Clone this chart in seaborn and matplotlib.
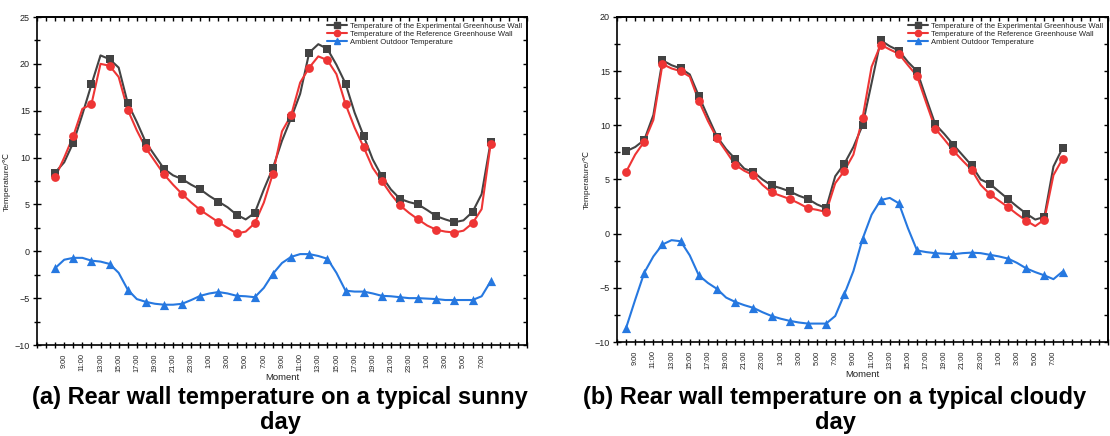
import matplotlib
matplotlib.use("Agg")
import matplotlib.pyplot as plt
from matplotlib.lines import Line2D
from matplotlib.ticker import MultipleLocator, FixedLocator, NullFormatter
import seaborn as sns
import pandas as pd

# ---------------- data ----------------
# hourly readings, 8:00 day 1 -> 8:00 day 3 (hour index counted from 0:00 day 1)
hours = list(range(8, 57))

sunny_exp = [8.4, 9.5, 11.6, 14.6, 17.8, 20.9, 20.5, 19.6, 15.8, 13.8, 11.6, 10.2,
             8.8, 8.1, 7.7, 7.1, 6.6, 5.9, 5.3, 4.7, 3.9, 3.4, 4.1, 6.6,
             8.9, 11.8, 14.2, 16.8, 21.2, 22.1, 21.6, 19.9, 17.9, 14.8, 12.3, 9.8,
             8.0, 6.6, 5.6, 5.25, 5.0, 4.4, 3.75, 3.4, 3.1, 3.3, 4.2, 6.1,
             11.7]
sunny_ref = [7.9, 10.0, 12.3, 15.2, 15.7, 20.0, 19.8, 18.6, 15.1, 12.9, 11.0, 9.6,
             8.2, 7.1, 6.1, 5.2, 4.4, 3.75, 3.1, 2.5, 1.9, 2.1, 3.0, 5.2,
             8.3, 12.8, 14.5, 18.0, 19.6, 20.8, 20.4, 18.9, 15.7, 13.2, 11.1, 8.9,
             7.5, 6.1, 4.9, 4.1, 3.4, 2.75, 2.3, 2.1, 2.0, 2.2, 3.0, 4.5,
             11.5]
sunny_amb = [-1.8, -0.9, -0.7, -0.7, -1.0, -1.1, -1.35, -2.3, -4.1, -5.1, -5.4, -5.6,
             -5.7, -5.7, -5.6, -5.2, -4.75, -4.5, -4.35, -4.5, -4.75, -4.8, -4.9, -3.9,
             -2.4, -1.25, -0.6, -0.3, -0.3, -0.5, -0.8, -2.3, -4.2, -4.3, -4.3, -4.5,
             -4.75, -4.8, -4.9, -5.0, -5.0, -5.05, -5.1, -5.2, -5.2, -5.2, -5.2, -4.8,
             -3.2]

cloudy_exp = [7.6, 8.0, 8.65, 10.95, 16.0, 15.55, 15.25, 14.7, 12.7, 10.8, 8.95, 7.8,
              6.9, 6.0, 5.7, 5.0, 4.45, 4.2, 3.9, 3.5, 3.2, 2.7, 2.35, 5.3,
              6.45, 8.0, 10.0, 13.9, 17.85, 17.3, 16.9, 15.85, 15.0, 12.5, 10.1, 9.2,
              8.2, 7.25, 6.3, 5.0, 4.6, 3.9, 3.2, 2.5, 1.85, 1.3, 1.55, 6.2,
              7.9]
cloudy_ref = [5.7, 7.3, 8.5, 10.5, 15.65, 15.25, 15.0, 14.5, 12.25, 10.4, 8.8, 7.6,
              6.35, 5.8, 5.4, 4.5, 3.8, 3.5, 3.2, 2.8, 2.35, 2.2, 2.0, 4.65,
              5.8, 7.3, 10.65, 15.4, 17.45, 17.0, 16.6, 15.55, 14.55, 12.1, 9.7, 8.7,
              7.65, 6.75, 5.9, 4.5, 3.65, 3.05, 2.45, 1.8, 1.2, 0.7, 1.3, 5.4,
              6.9]
cloudy_amb = [-8.7, -6.1, -3.6, -2.1, -1.0, -0.6, -0.7, -2.0, -3.85, -4.55, -5.1, -5.9,
              -6.3, -6.6, -6.85, -7.25, -7.6, -7.85, -8.05, -8.2, -8.3, -8.3, -8.3, -7.6,
              -5.6, -3.45, -0.5, 1.75, 3.1, 3.3, 2.8, 0.5, -1.55, -1.7, -1.8, -1.85,
              -1.9, -1.8, -1.75, -1.8, -1.95, -2.1, -2.3, -2.7, -3.2, -3.55, -3.85, -4.2,
              -3.5]

series_names = ["Temperature of the Experimental Greenhouse Wall",
                "Temperature of the Reference Greenhouse Wall",
                "Ambient Outdoor Temperature"]
label_hours = list(range(9, 56, 2))
tick_labels = [f"{h % 24}:00" for h in label_hours]

titles = ["(a) Rear wall temperature on a typical sunny\nday",
          "(b) Rear wall temperature on a typical cloudy\nday"]

# ---------------- style ----------------
sns.set_theme(style="white")
plt.rcParams["font.family"] = ["Liberation Sans", "DejaVu Sans"]

colors = ["#434343", "#ee3535", "#2678e0"]
markers = ["s", "o", "^"]
msizes = [32, 40, 44]
txt = "#222222"

fig = plt.figure(figsize=(11.1, 4.36), dpi=100)
ax_pos = [[37 / 1110, 1 - 345 / 436, 490 / 1110, 328 / 436],
          [617 / 1110, 1 - 342 / 436, 491 / 1110, 325 / 436]]
title_x = [280 / 1110, 835 / 1110]
xlims = [(6, 60), (7, 61)]
ylims = [(-10, 25), (-10, 20)]
panels = [(sunny_exp, sunny_ref, sunny_amb), (cloudy_exp, cloudy_ref, cloudy_amb)]

for i in range(2):
    ax = fig.add_axes(ax_pos[i])
    for vals, c, m, s in zip(panels[i], colors, markers, msizes):
        df = pd.DataFrame({"h": hours, "v": vals})
        sns.lineplot(data=df, x="h", y="v", ax=ax, color=c, lw=1.5, zorder=2)
        sns.scatterplot(data=df.iloc[::2], x="h", y="v", ax=ax, color=c,
                        marker=m, s=s, linewidth=0, zorder=3)
    ax.set_xlim(*xlims[i])
    ax.set_ylim(*ylims[i])
    ax.xaxis.set_major_locator(FixedLocator(label_hours))
    ax.set_xticklabels(tick_labels, rotation=90, fontsize=5.3, color=txt)
    ax.xaxis.set_minor_locator(MultipleLocator(1))
    ax.yaxis.set_major_locator(MultipleLocator(5))
    ax.yaxis.set_minor_locator(MultipleLocator(2.5))
    ax.tick_params(axis="y", labelsize=6.5, pad=2, labelcolor=txt)
    ax.tick_params(which="both", bottom=True, top=False, left=True, right=False,
                   color="black", width=1.0, direction="inout")
    ax.tick_params(axis="y", which="major", length=6)
    ax.tick_params(axis="y", which="minor", length=4)
    ax.tick_params(axis="x", which="both", length=5)

    # mirrored inward ticks on top and right
    top = ax.secondary_xaxis("top")
    top.xaxis.set_major_locator(MultipleLocator(1))
    top.xaxis.set_major_formatter(NullFormatter())
    top.tick_params(direction="in", length=3, width=1.0, color="black")
    right = ax.secondary_yaxis("right")
    right.yaxis.set_major_locator(MultipleLocator(2.5))
    right.yaxis.set_major_formatter(NullFormatter())
    right.tick_params(direction="in", length=3, width=1.0, color="black")
    for a in (top, right):
        for sp in a.spines.values():
            sp.set_color("black")
            sp.set_linewidth(1.2)

    for sp in ax.spines.values():
        sp.set_color("black")
        sp.set_linewidth(1.2)
    ax.set_xlabel("Moment", fontsize=6.8, labelpad=1, color=txt)
    ax.set_ylabel("Temperature/℃", fontsize=6, labelpad=3, color=txt)
    ax.grid(False)

    handles = [Line2D([0], [0], color=c, lw=1.5, marker=m, markersize=4.5)
               for c, m in zip(colors, markers)]
    leg = ax.legend(handles, series_names, loc="upper right", frameon=False,
                    fontsize=5.5, handlelength=2.6, labelspacing=0.1,
                    borderaxespad=0.3, handletextpad=0.3)
    for t in leg.get_texts():
        t.set_color(txt)

    fig.text(title_x[i], 1 - 386 / 436, titles[i], ha="center", va="top",
             fontsize=17, fontweight="bold", linespacing=1.1, color="black")

fig.savefig("out.png", dpi=100)
